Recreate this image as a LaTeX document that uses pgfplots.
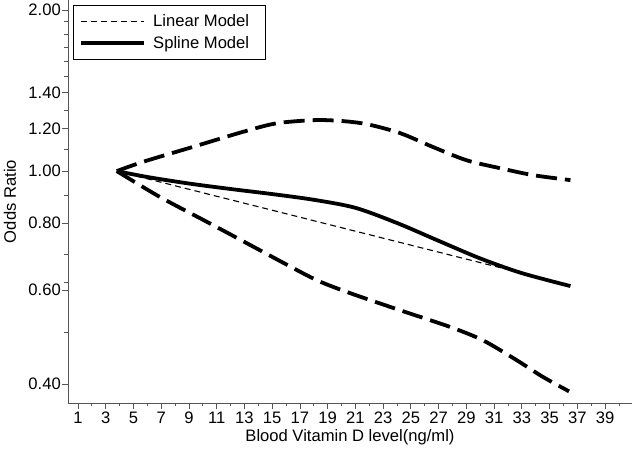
\documentclass[border=0pt]{standalone}
\usepackage{pgfplots}
\pgfplotsset{compat=1.18}
\usepackage{fontspec}
\setmainfont{Liberation Sans}
\definecolor{axisgray}{HTML}{555555}

\begin{document}
\begin{tikzpicture}[font=\fontsize{16.6bp}{19bp}\selectfont]
	\useasboundingbox (-68bp,-49bp) rectangle (564bp,403bp);
	\begin{axis}[
		scale only axis,
		width=564bp,
		height=403bp,
		xmin=0.28, xmax=40.94,
		ymode=log,
		ymin=0.369, ymax=2.087,
		axis lines=left,
		axis line style={-, axisgray, line width=0.8bp},
		tick align=outside,
		tick style={axisgray, line width=0.8bp},
		major tick length=6bp,
		minor tick length=3.5bp,
		xtick={1,3,...,39},
		xticklabels={1,3,5,7,9,11,13,15,17,19,21,23,25,27,29,31,33,35,37,39},
		minor xtick={2,4,...,40},
		ytick={0.4,0.6,0.8,1.0,1.2,1.4,2.0},
		yticklabels={0.40,0.60,0.80,1.00,1.20,1.40,2.00},
		minor ytick={0.5,0.62,0.7,0.9,1.1,1.3,1.5,1.6,1.7,1.8,1.9},
		xticklabel style={inner sep=3bp},
		yticklabel style={inner sep=1bp},
		xlabel={Blood Vitamin D level(ng/ml)},
		ylabel={Odds Ratio},
		every axis x label/.style={at={(axis description cs:0.5,-0.0844)}, anchor=center},
		every axis y label/.style={at={(axis description cs:-0.1028,0.5)}, rotate=90, anchor=center},
		legend style={at={(axis description cs:0.0089,0.9876)}, anchor=north west,
			draw=black, line width=0.8bp, inner xsep=6bp, inner ysep=7.5bp,
			row sep=4bp, cells={anchor=west},
			/tikz/every odd column/.append style={column sep=5bp}},
		legend cell align=left,
		legend image code/.code={\draw[#1] (0bp,0bp) -- (63bp,0bp);},
		]
		% linear model
		\addplot [black, line width=1.1bp, dash pattern=on 6bp off 4bp] coordinates {
			(3.8,1.0) (36.5,0.612)
		};
		\addlegendentry{Linear Model\rule{8bp}{0pt}}
		% spline model
		\addplot [black, line width=3.8bp, smooth] coordinates {
			(3.8,1.0) (6,0.975) (9,0.948) (12,0.926) (15,0.906) (18,0.884)
			(21,0.854) (24,0.800) (27,0.741) (30,0.687) (33,0.645) (36.5,0.61)
		};
		\addlegendentry{Spline Model}
		% upper confidence limit
		\addplot [black, line width=3.8bp, dash pattern=on 21bp off 8bp, smooth, forget plot] coordinates {
			(3.8,1.0) (5.7,1.041) (9.3,1.110) (12.9,1.184) (15.3,1.228) (18.0,1.245)
			(19.9,1.241) (21.8,1.224) (24.2,1.178) (26.6,1.109) (29.0,1.048)
			(31.4,1.013) (33.8,0.983) (36.5,0.962)
		};
		% lower confidence limit
		\addplot [black, line width=3.8bp, dash pattern=on 21bp off 8bp, smooth, forget plot] coordinates {
			(3.8,1.0) (6.9,0.895) (10.5,0.799) (14.1,0.712) (17.0,0.649) (18.5,0.621)
			(20.6,0.592) (24.2,0.550) (27.8,0.512) (30.2,0.483) (32.6,0.444)
			(34.5,0.413) (36.4,0.388)
		};
	\end{axis}
\end{tikzpicture}
\end{document}
